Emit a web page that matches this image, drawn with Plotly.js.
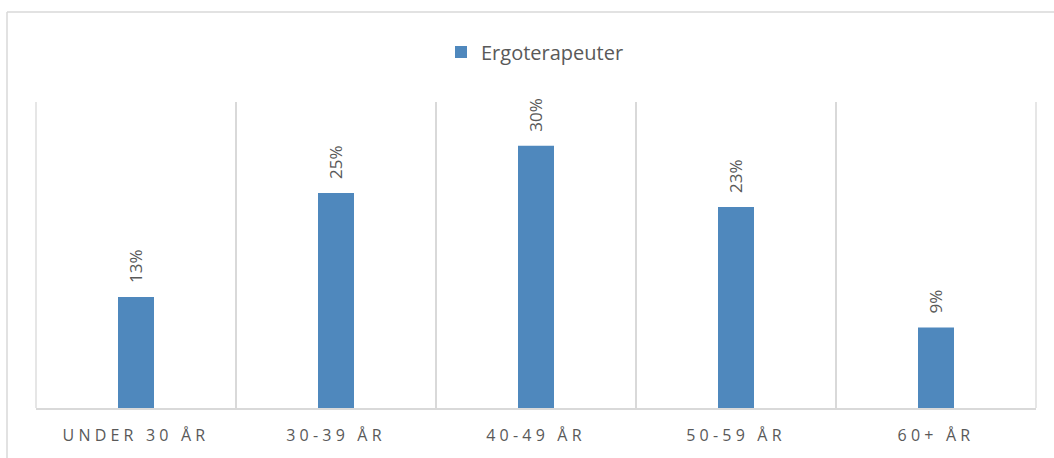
<!DOCTYPE html>
<html>
<head>
<meta charset="utf-8">
<script src="https://cdn.plot.ly/plotly-3.0.1.min.js"></script>
<style>
  html, body { margin: 0; padding: 0; background: #fff; }
  #chart { width: 1054px; height: 458px; }
  .xtick text { letter-spacing: 4.2px; }
</style>
</head>
<body>
<div id="chart"></div>
<script>
const categories = ["UNDER 30 ÅR", "30-39 ÅR", "40-49 ÅR", "50-59 ÅR", "60+ ÅR"];
const seriesName = "Ergoterapeuter";
const values = [0.127, 0.246, 0.300, 0.230, 0.092];
const labels = ["13%", "25%", "30%", "23%", "9%"];

const gray = "#595959";
const lineGray = "#d9d9d9";

const trace = {
  type: "bar",
  x: categories,
  y: values,
  name: seriesName,
  marker: { color: "#4f88bd" },
  showlegend: true,
  hoverinfo: "skip"
};

const annotations = categories.map((c, i) => ({
  x: c, y: values[i], xref: "x", yref: "y",
  text: labels[i], showarrow: false, textangle: -90,
  yanchor: "bottom", xanchor: "center", yshift: 12,
  font: { family: "Open Sans, sans-serif", size: 17, color: gray }
}));

const shapes = [
  { type: "line", xref: "paper", yref: "paper", x0: -0.029, x1: 1.03, y0: 1.294, y1: 1.294, line: { color: lineGray, width: 1.5 } },
  { type: "line", xref: "paper", yref: "paper", x0: -0.029, x1: -0.029, y0: 1.294, y1: -0.2, line: { color: lineGray, width: 1.5 } },
  { type: "line", xref: "paper", yref: "paper", x0: 0, x1: 0, y0: 0, y1: 1, line: { color: lineGray, width: 1.3 } },
  { type: "line", xref: "paper", yref: "paper", x0: 1, x1: 1, y0: 0, y1: 1, line: { color: lineGray, width: 1.3 } }
];

const layout = {
  width: 1054, height: 458,
  margin: { l: 36, r: 18, t: 102, b: 50 },
  paper_bgcolor: "#ffffff", plot_bgcolor: "#ffffff",
  bargap: 0.82,
  showlegend: true,
  legend: {
    orientation: "h", x: 0.499, xanchor: "center", y: 1.163, yanchor: "middle",
    font: { family: "Open Sans, sans-serif", size: 20, color: gray }
  },
  xaxis: {
    type: "category",
    tickson: "boundaries",
    showgrid: true, gridcolor: lineGray, gridwidth: 1.3,
    showline: true, linecolor: lineGray, linewidth: 2,
    ticks: "", ticklabelstandoff: 12,
    tickfont: { family: "Open Sans, sans-serif", size: 16, color: gray },
    fixedrange: true
  },
  yaxis: {
    range: [0, 0.35], visible: false, showgrid: false, zeroline: false, fixedrange: true
  },
  annotations: annotations,
  shapes: shapes
};

Plotly.newPlot("chart", [trace], layout, { displayModeBar: false, staticPlot: true });
</script>
</body>
</html>
